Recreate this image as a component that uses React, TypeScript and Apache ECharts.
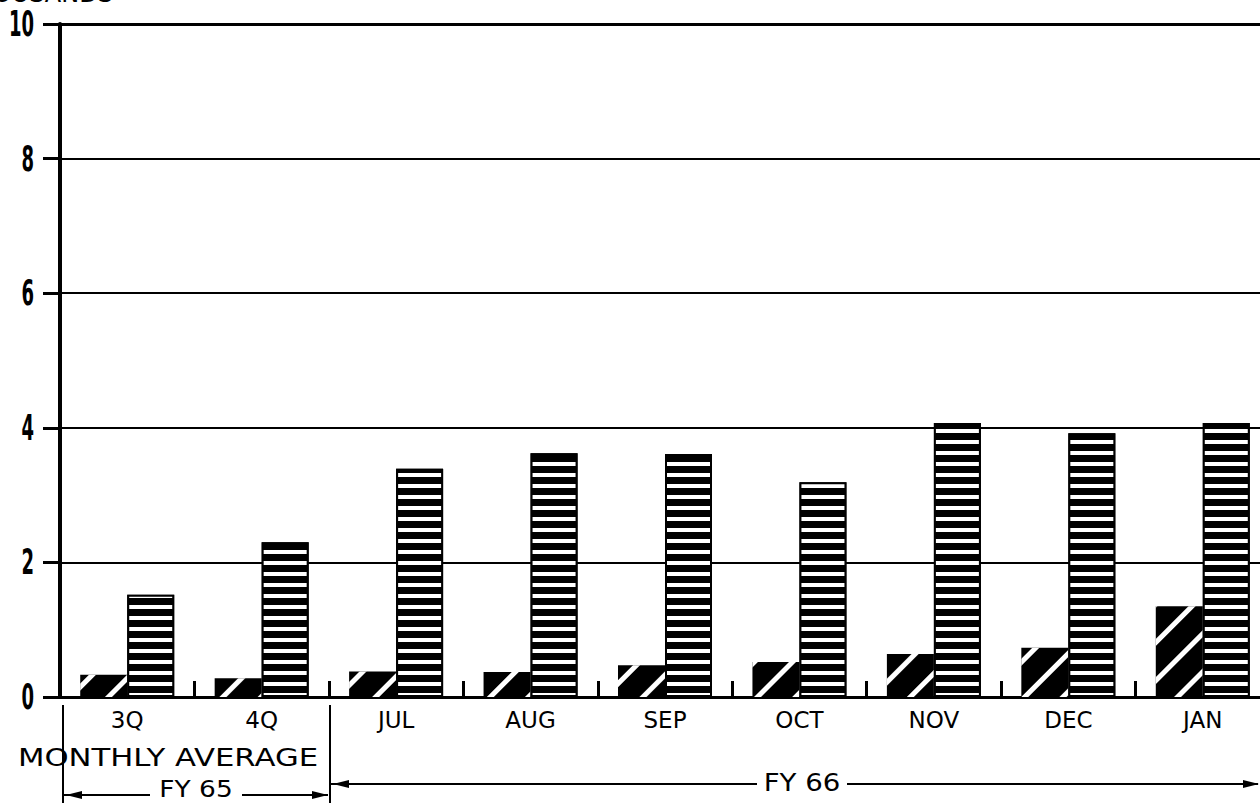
import React, { useEffect, useRef } from "react";
import * as echarts from "echarts";

const categories = ["3Q", "4Q", "JUL", "AUG", "SEP", "OCT", "NOV", "DEC", "JAN"];
const hatchedValues = [0.33, 0.28, 0.38, 0.37, 0.47, 0.52, 0.64, 0.73, 1.35];
const stripedValues = [1.52, 2.3, 3.39, 3.62, 3.61, 3.19, 4.07, 3.92, 4.07];
const yTicks = [0, 2, 4, 6, 8, 10];
const unitLabel = "THOUSANDS";
const periodNote = "MONTHLY AVERAGE";
const fy65Label = "FY 65";
const fy66Label = "FY 66";

const FONT = "'DejaVu Sans', 'Open Sans', sans-serif";

export default function App() {
  const ref = useRef<HTMLDivElement>(null);
  useEffect(() => {
    document.body.style.margin = "0";
    document.body.style.background = "#fff";
    if (!ref.current) return;
    const chart = echarts.init(ref.current, undefined, { renderer: "svg" });
    const line = (x1: number, y1: number, x2: number, y2: number, w = 2) => ({
      type: "line",
      shape: { x1, y1, x2, y2 },
      style: { stroke: "#000", lineWidth: w },
      silent: true,
    });
    const arrow = (x: number, y: number, dir: number) => ({
      type: "polygon",
      shape: { points: [[x, y], [x - dir * 16, y - 4], [x - dir * 16, y + 4]] },
      style: { fill: "#000" },
      silent: true,
    });
    const baseGraphic: any[] = [
      {
        type: "text",
        x: -40,
        y: 6,
        style: { text: unitLabel, fill: "#000", font: `24px ${FONT}`, textVerticalAlign: "bottom" },
      },
      {
        type: "text",
        x: 168,
        y: 757,
        scaleX: 1.28,
        style: { text: periodNote, fill: "#000", font: `24px ${FONT}`, textAlign: "center", textVerticalAlign: "middle" },
      },
      line(63, 705, 63, 803),
      line(330, 705, 330, 803),
      line(64, 795, 150, 795),
      line(242, 795, 328, 795),
      arrow(66, 795, -1),
      arrow(328, 795, 1),
      {
        type: "text",
        x: 196,
        y: 789,
        scaleX: 1.15,
        style: { text: fy65Label, fill: "#000", font: `23px ${FONT}`, textAlign: "center", textVerticalAlign: "middle" },
      },
      line(331, 784, 757, 784),
      line(847, 784, 1258, 784),
      arrow(333, 784, -1),
      arrow(1259, 784, 1),
      {
        type: "text",
        x: 802,
        y: 783,
        scaleX: 1.15,
        style: { text: fy66Label, fill: "#000", font: `24px ${FONT}`, textAlign: "center", textVerticalAlign: "middle" },
      },
    ];
    chart.setOption({
      animation: false,
      backgroundColor: "#fff",
      grid: { left: 60, top: 24, width: 1210, height: 673, outerBoundsMode: "none", containLabel: false },
      xAxis: [
        {
          type: "category",
          data: categories,
          axisLine: { lineStyle: { color: "#000", width: 3 } },
          axisTick: { show: true, inside: true, length: 16, lineStyle: { color: "#000", width: 3 } },
          axisLabel: { color: "#000", fontSize: 23, fontFamily: FONT, margin: 11 },
        },
        {
          type: "category",
          data: categories,
          position: "top",
          axisLine: { lineStyle: { color: "#000", width: 3 } },
          axisTick: { show: false },
          axisLabel: { show: false },
        },
      ],
      yAxis: {
        type: "value",
        min: yTicks[0],
        max: yTicks[yTicks.length - 1],
        interval: 2,
        axisLine: { show: true, lineStyle: { color: "#000", width: 4 } },
        axisTick: { show: true, length: 17, lineStyle: { color: "#000", width: 3 } },
        axisLabel: { show: false },
        splitLine: { show: true, lineStyle: { color: "#000", width: 2 } },
      },
      series: [
        {
          type: "bar",
          data: hatchedValues,
          barWidth: 47,
          barGap: "0%",
          itemStyle: {
            color: "#000",
            decal: {
              symbol: "rect",
              symbolSize: 1,
              color: "#fff",
              dashArrayX: [1, 0],
              dashArrayY: [5, 22],
              rotation: -Math.PI / 4,
            },
          },
        },
        {
          type: "bar",
          data: stripedValues,
          barWidth: 47,
          barGap: "0%",
          itemStyle: {
            color: "#000",
            borderColor: "#000",
            borderWidth: 2,
            decal: {
              symbol: "rect",
              symbolSize: 1,
              color: "#fff",
              dashArrayX: [1, 0],
              dashArrayY: [4, 7],
              rotation: 0,
            },
          },
        },
      ],
      graphic: baseGraphic,
    });
    const yLabels = yTicks.map((v) => {
      const py = chart.convertToPixel({ yAxisIndex: 0 }, v) as number;
      return {
        type: "text",
        x: 34,
        y: py,
        scaleX: 0.5,
        style: {
          text: String(v),
          fill: "#000",
          font: `bold 36px ${FONT}`,
          textAlign: "right",
          textVerticalAlign: "middle",
        },
      };
    });
    chart.setOption({ graphic: [...baseGraphic, ...yLabels] }, { replaceMerge: ["graphic"] });
    return () => chart.dispose();
  }, []);
  return <div ref={ref} style={{ width: 1260, height: 803 }} />;
}
